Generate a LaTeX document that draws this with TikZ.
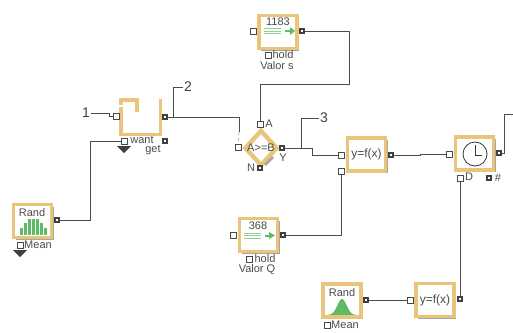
\documentclass[tikz,border=0pt]{standalone}
\usepackage{fontspec}
\setmainfont{Liberation Sans}
\usepackage{xcolor}
\usetikzlibrary{positioning, shapes.geometric, shadows}
\definecolor{blockorange}{HTML}{EBC47C}
\definecolor{barsgreen}{HTML}{5DBB63}
\definecolor{inktext}{HTML}{4A4A4A}
\tikzset{
  block/.style={draw=blockorange, line width=3.8pt, fill=white, minimum width=38pt, minimum height=33pt, inner sep=0pt,
    drop shadow={shadow xshift=2pt, shadow yshift=-2pt, fill=black!50, opacity=0.7}},
  inport/.style={draw=inktext, line width=0.9pt, fill=white, minimum size=6pt, inner sep=0pt},
  outport/.style={draw=black!75, line width=2.2pt, fill=white, minimum size=3.6pt, inner sep=0pt},
  wire/.style={draw=black!70, line width=0.9pt},
  txt/.style={text=inktext, inner sep=0pt, font=\fontsize{11}{11}\selectfont},
  fn/.style={text=inktext, inner sep=0pt, font=\fontsize{12}{12}\selectfont},
  tag/.style={text=black!75, inner sep=1pt, font=\fontsize{14}{14}\selectfont},
  flag/.style={fill=black!75, inner sep=0pt}
}
\begin{document}
\begin{tikzpicture}[x=1pt, y=-1pt]
  \useasboundingbox (0,0) rectangle (513,332);

  % Valor s
  \node[block] (valorS) at (278,32) {};
  \node[inport] (sIn) at (253,31) {};
  \node[outport] (sOut) at (302,31) {};
  \node[inport] (sHold) at (268,55) {};
  \node[txt] (sHoldTxt) at (283,55) {hold};
  \node[txt] (sName) at (277,65.5) {Valor s};
  \node[txt] (sCount) at (278,22) {1183};
  \draw[barsgreen!70, line width=0.6pt] (264,28.5) -- (281,28.5) (264,31) -- (281,31) (264,33.5) -- (281,33.5);
  \draw[barsgreen, line width=2pt] (285,31) -- (291,31);
  \fill[barsgreen] (290,27) -- (295,31) -- (290,35) -- cycle;

  % Queue
  \draw[blockorange, line width=3.8pt] (137,112) -- (137,100) -- (121,100) -- (121,134.5) -- (160.5,134.5) -- (160.5,99);
  \draw[white, line width=1.5pt] (119,106) -- (123,106);
  \node[inport] (qIn) at (116,116) {};
  \node[outport] (qOut) at (165,117) {};
  \node[inport] (qWant) at (124,141) {};
  \node[txt] (qWantTxt) at (142,140) {want};
  \node[outport] (qGet) at (165,141) {};
  \node[txt] (qGetTxt) at (153,150.5) {get};
  \node[flag, isosceles triangle, isosceles triangle apex angle=90, shape border rotate=-90, minimum size=7pt] (qFlag) at (124,149) {};

  % Compare
  \node[diamond, draw=blockorange, line width=4.4pt, fill=white, minimum width=33pt, minimum height=36pt, inner sep=0pt] (cmp) at (261,148) {};
  \draw[black!35, line width=2.5pt] (273,157) -- (265,165);
  \node[txt] (cmpTxt) at (261,148) {A>=B};
  \node[inport] (cmpIn) at (238,147) {};
  \node[inport] (cmpA) at (260,124) {};
  \node[txt] (cmpATxt) at (269,124) {A};
  \node[outport] (cmpN) at (260,168) {};
  \node[txt] (cmpNTxt) at (251,168) {N};
  \node[outport] (cmpY) at (282,148) {};
  \node[txt] (cmpYTxt) at (283,158) {Y};

  % Function 1
  \node[block, fn] (fOne) at (366.5,154.5) {y=f(x)};
  \node[inport] (fOneIn) at (341,155.5) {};
  \node[inport] (fOneLow) at (341,171) {};
  \node[outport] (fOneOut) at (391,155) {};

  % Clock
  \node[block] (clock) at (474.5,153.5) {};
  \draw[black!80, line width=0.8pt] (475,154) circle (12);
  \draw[black!80, line width=0.8pt] (475,145) -- (475,155) -- (482,155);
  \node[inport] (clkIn) at (449,154) {};
  \node[outport] (clkOut) at (499,153) {};
  \node[inport] (clkD) at (460,178) {};
  \node[txt] (clkDTxt) at (469,177) {D};
  \node[outport] (clkHash) at (489,178) {};
  \node[txt] (clkHashTxt) at (498,178) {\#};

  % Rand, bars
  \node[block] (randBars) at (32.5,221) {};
  \node[txt] (randBarsTxt) at (32,213) {Rand};
  \foreach \bx/\btop in {21/228, 25/223, 29/219, 33/219, 37/219, 41/223, 45/228}
    \fill[barsgreen] (\bx-1.5,235) rectangle (\bx+1.5,\btop);
  \node[outport] (randOut) at (57,220) {};
  \node[inport] (randMean) at (20,245) {};
  \node[txt] (randMeanTxt) at (38,245) {Mean};
  \node[flag, isosceles triangle, isosceles triangle apex angle=90, shape border rotate=-90, minimum size=7pt] (randFlag) at (20,253) {};

  % Valor Q
  \node[block] (valorQ) at (258.5,235) {};
  \node[inport] (vqIn) at (233,235) {};
  \node[outport] (vqOut) at (283,235) {};
  \node[inport] (vqHold) at (249,259) {};
  \node[txt] (vqHoldTxt) at (265,259) {hold};
  \node[txt] (vqName) at (257,269.5) {Valor Q};
  \node[txt] (vqCount) at (258,226) {368};
  \draw[barsgreen!70, line width=0.6pt] (244,233) -- (261,233) (244,235.5) -- (261,235.5) (244,238) -- (261,238);
  \draw[barsgreen, line width=2pt] (265,235.5) -- (270,235.5);
  \fill[barsgreen] (269,232) -- (275,235.5) -- (269,239) -- cycle;

  % Rand, bell
  \node[block] (randBell) at (342,300.5) {};
  \node[txt] (randBellTxt) at (342,293) {Rand};
  \fill[barsgreen, domain=328:357, samples=40]
    plot (\x, {315 - 16*exp(-((\x-342)/6.5)^2)}) -- cycle;
  \node[outport] (bellOut) at (366,300) {};
  \node[inport] (bellMean) at (327,325) {};
  \node[txt] (bellMeanTxt) at (345,325) {Mean};

  % Function 2
  \node[block, fn] (fTwo) at (435,300) {y=f(x)};
  \node[inport] (fTwoIn) at (410,300) {};
  \node[outport] (fTwoOut) at (460,299) {};

  % Tags
  \node[tag] (tagOne) at (86,113) {1};
  \node[tag] (tagTwo) at (188,87) {2};
  \node[tag] (tagThree) at (324,118) {3};

  % Bends
  \coordinate (bendS) at (349,84);
  \coordinate (bendOne) at (109,113);
  \coordinate (tapTwo) at (173,117);
  \coordinate (endTwo) at (239,132);
  \coordinate (tapThree) at (301.5,148);
  \coordinate (bendY) at (312.5,148);
  \coordinate (bendF) at (420,155);
  \coordinate (bendClk) at (504,114);
  \coordinate (endClk) at (513,114);
  \coordinate (bendRand) at (90,141);

  % Wires
  \draw[wire] (sOut) -| (bendS) -| (cmpA);
  \draw[wire] (tagOne) -- (bendOne) |- (qIn);
  \draw[wire] (qOut) -| (endTwo);
  \draw[black!25, line width=1pt, dashed] (endTwo) -- (cmpIn);
  \draw[wire] (tapTwo) |- (tagTwo);
  \draw[wire] (cmpY) -- (bendY) |- (fOneIn);
  \draw[wire] (tapThree) |- (tagThree);
  \draw[wire] (fOneOut) -- (bendF) |- (clkIn);
  \draw[wire] (clkOut) -| (bendClk) -- (endClk);
  \draw[wire] (randOut) -| (bendRand) -- (qWant);
  \draw[wire] (vqOut) -| (fOneLow);
  \draw[wire] (bellOut) -- (fTwoIn);
  \draw[wire] (fTwoOut) -- (clkD);
\end{tikzpicture}
\end{document}
